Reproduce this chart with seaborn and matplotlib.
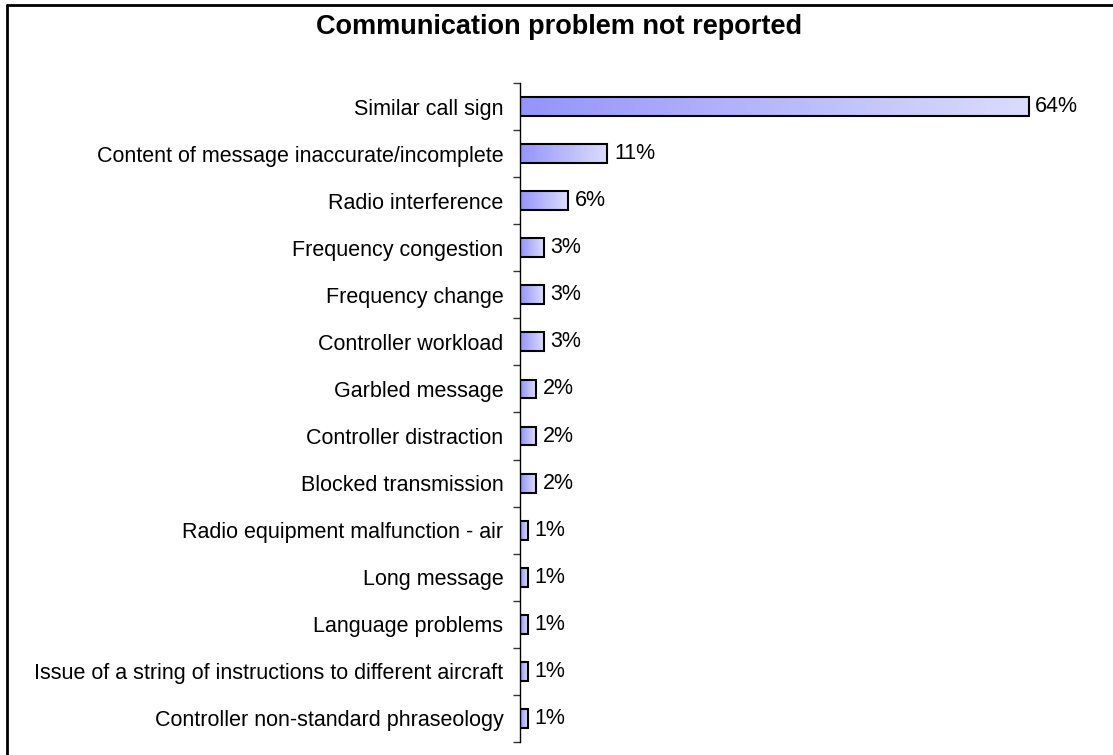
import numpy as np
import pandas as pd
import matplotlib
matplotlib.use("Agg")
import matplotlib.pyplot as plt
from matplotlib.colors import LinearSegmentedColormap
from matplotlib.lines import Line2D
import seaborn as sns

categories = [
    "Similar call sign",
    "Content of message inaccurate/incomplete",
    "Radio interference",
    "Frequency congestion",
    "Frequency change",
    "Controller workload",
    "Garbled message",
    "Controller distraction",
    "Blocked transmission",
    "Radio equipment malfunction - air",
    "Long message",
    "Language problems",
    "Issue of a string of instructions to different aircraft",
    "Controller non-standard phraseology",
]
shares = [64, 11, 6, 3, 3, 3, 2, 2, 2, 1, 1, 1, 1, 1]
title = "Communication problem not reported"

df = pd.DataFrame({"category": categories, "share": shares})

sns.set_theme(style="white")
plt.rcParams["font.family"] = ["Liberation Sans", "DejaVu Sans"]

fig = plt.figure(figsize=(11.13, 7.55), dpi=100)
ax = fig.add_axes([0.4672, 0.0172, 0.514, 0.8729])

sns.barplot(data=df, y="category", x="share", orient="h", ax=ax,
            width=0.4, color="#aaaaff", edgecolor="black", linewidth=1.5)

grad = LinearSegmentedColormap.from_list("g", ["#9494fa", "#dcdcff"])
ramp = np.linspace(0, 1, 256).reshape(1, -1)
for patch in ax.patches:
    x0, y0 = patch.get_x(), patch.get_y()
    w, h = patch.get_width(), patch.get_height()
    patch.set_facecolor("none")
    patch.set_zorder(3)
    im = ax.imshow(ramp, cmap=grad, aspect="auto", interpolation="bicubic",
                   extent=(x0, x0 + w, y0 + h, y0), zorder=2)
    im.set_clip_path(patch)

ax.set_xlim(0, 72)
ax.set_ylim(len(categories) - 0.5, -0.5)

for i, v in enumerate(shares):
    ax.text(v + 0.85, i, f"{v}%", va="center", ha="left", fontsize=15.5, color="black")

ax.set_xlabel("")
ax.set_ylabel("")
ax.set_xticks([])
for s in ["top", "right", "bottom"]:
    ax.spines[s].set_visible(False)
ax.spines["left"].set_color("black")
ax.spines["left"].set_linewidth(1.0)
ax.set_yticks(np.arange(-0.5, len(categories)), minor=True)
ax.tick_params(axis="y", which="major", length=0, pad=12, labelsize=15.5, labelcolor="black")
ax.tick_params(axis="y", which="minor", length=5, width=1, color="#333333", left=True)

fig.text(0.502, 0.964, title, ha="center", va="center", fontsize=19.5,
         fontweight="bold", color="black")

fig.add_artist(Line2D([7 / 1113, 7 / 1113], [0, 1 - 5 / 755], color="black", lw=2,
                      transform=fig.transFigure))
fig.add_artist(Line2D([7 / 1113, 1], [1 - 5 / 755, 1 - 5 / 755], color="black", lw=2,
                      transform=fig.transFigure))

fig.savefig("out.png", dpi=100, facecolor="white")
